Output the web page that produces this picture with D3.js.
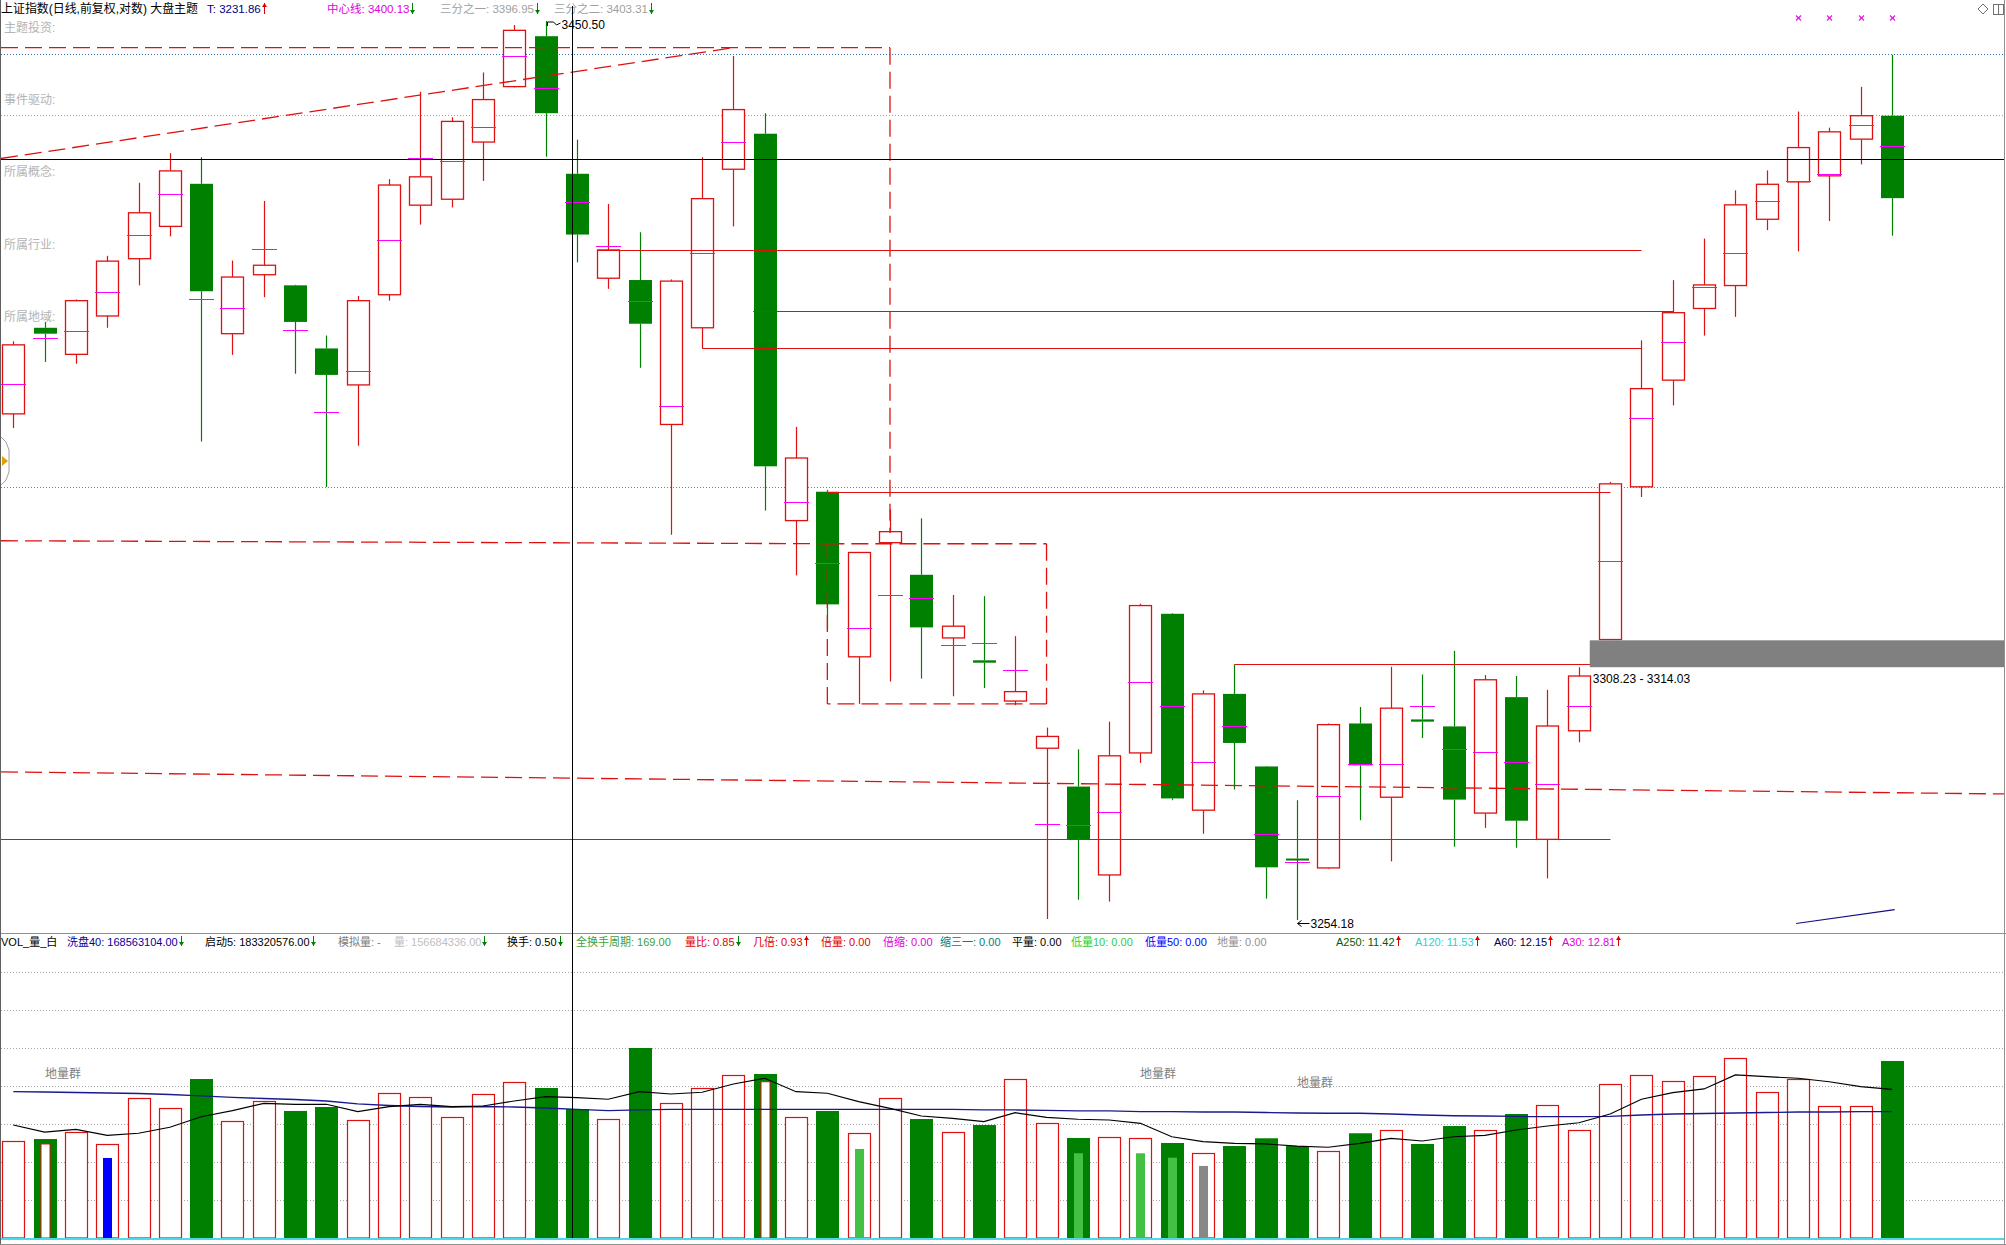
<!DOCTYPE html>
<html><head><meta charset="utf-8">
<script src="https://cdn.jsdelivr.net/npm/d3@7"></script>
<style>
html,body{margin:0;padding:0;background:#fff;}
svg{display:block;}
text{font-family:"Liberation Sans","Noto Sans CJK SC",sans-serif;}
</style></head><body>
<svg id="c" width="2006" height="1245"></svg>
<script>
// ---------------- DATA ----------------
const opens  = [3363.29,3382.21,3376.36,3384.81,3397.47,3404.63,3414.09,3380.91,3393.92,3391.58,
                3377.66,3369.64,3389.50,3409.34,3410.66,3423.39,3435.78,3447.08,3416.32,3393.15,
                3392.75,3360.97,3382.21,3417.33,3425.25,3339.98,3346.27,3310.47,3335.18,3328.21,
                3314.54,3309.71,3300.94,3290.81,3282.60,3263.75,3289.80,3319.76,3277.55,3302.48,
                3286.90,3267.24,3265.24,3296.12,3280.32,3296.99,3295.49,3276.93,3301.78,3271.32,
                3294.55,3314.20,3347.34,3370.69,3386.47,3391.53,3406.21,3414.51,3415.86,3424.04,3429.27];
const highs  = [3379.22,3383.50,3388.46,3398.11,3414.33,3420.90,3419.99,3397.06,3410.28,3391.70,
                3380.51,3389.23,3415.13,3434.61,3428.92,3438.95,3449.59,3450.50,3423.93,3409.61,
                3403.33,3392.88,3419.99,3442.64,3429.83,3360.44,3346.66,3333.10,3342.40,3340.48,
                3323.84,3323.58,3314.93,3295.24,3290.57,3296.51,3321.93,3319.90,3303.23,3308.83,
                3287.00,3279.68,3296.12,3299.67,3308.32,3306.66,3311.74,3306.53,3306.33,3303.36,
                3308.23,3348.41,3379.44,3392.73,3401.93,3412.64,3417.07,3430.21,3426.60,3435.74,3442.92];
const lows   = [3360.18,3374.69,3374.30,3382.21,3391.58,3402.42,3357.23,3376.25,3388.97,3372.10,
                3347.32,3356.31,3388.19,3405.03,3408.83,3414.73,3435.60,3420.12,3396.66,3390.80,
                3373.40,3336.90,3377.66,3404.63,3342.16,3328.08,3316.27,3300.32,3305.15,3305.77,
                3301.96,3303.74,3300.06,3254.39,3258.48,3258.09,3287.66,3279.68,3272.52,3281.98,
                3258.73,3254.18,3265.10,3275.41,3266.63,3292.98,3269.77,3273.77,3269.54,3263.01,
                3292.08,3314.03,3345.12,3365.14,3380.49,3384.61,3403.80,3399.08,3405.81,3418.41,3402.56];
const closes = [3378.45,3380.91,3388.19,3396.93,3407.65,3416.96,3390.27,3393.41,3396.02,3383.50,
                3371.84,3388.19,3413.82,3415.64,3428.00,3432.88,3448.40,3429.83,3402.82,3399.41,
                3383.10,3392.51,3410.79,3430.64,3351.82,3353.63,3321.80,3333.05,3337.58,3316.82,
                3317.08,3309.20,3302.97,3293.34,3271.26,3289.18,3321.54,3280.06,3302.48,3291.94,
                3265.37,3266.99,3295.87,3287.14,3299.41,3296.51,3279.81,3305.52,3275.30,3295.58,
                3306.33,3347.99,3368.83,3385.54,3391.67,3409.41,3413.98,3422.16,3425.67,3429.27,3410.90];
const avgPrices = [3369.77,3380.01,3381.42,3390.16,3402.82,3411.73,3388.46,3386.62,3399.54,3381.82,
                3363.69,3372.61,3401.62,3419.86,3419.08,3426.82,3442.64,3435.38,3410.15,3400.31,
                3388.19,3364.96,3398.63,3423.39,3385.85,3344.09,3330.77,3316.72,3323.84,3323.21,
                3313.01,3313.40,3307.56,3274.66,3274.41,3277.06,3305.02,3299.80,3287.92,3295.61,
                3272.52,3266.50,3280.58,3287.39,3287.39,3299.80,3290.69,3290.06,3287.82,3283.04,
                3299.84,3331.10,3362.35,3379.03,3391.14,3398.72,3410.37,3414.78,3416.26,3427.14,3422.56];
// volume, millions of shares
const volumes = [117.4,120.2,128.4,113.8,169.7,157.5,193.1,141.7,166.0,154.3,
                 159.1,143.0,175.8,170.9,146.6,174.5,189.1,182.2,156.68,144.2,
                 230.8,164.0,181.8,198.0,199.2,146.6,154.3,127.2,169.7,144.5,
                 128.4,137.2,192.8,139.3,121.5,122.3,121.1,115.4,102.9,111.7,
                 121.1,111.7,105.7,127.2,131.2,114.2,136.0,131.2,150.6,161.2,
                 131.2,187.0,198.0,190.7,196.8,218.3,177.0,193.1,160.0,160.0,215.0];
const volMaShort = [137.2,128.7,132.0,124.7,127.2,134.5,147.3,154.6,163.6,162.4,
                 162.4,153.4,159.5,162.4,159.5,160.3,166.4,171.6,170.4,168.5,
                 177.7,174.9,177.0,187.0,194.0,177.7,175.8,165.6,157.5,148.2,
                 145.4,141.3,152.2,146.6,144.2,143.3,139.3,123.0,117.0,115.0,
                 114.2,111.7,110.2,115.0,121.1,117.8,123.0,124.7,131.2,136.0,
                 140.0,150.6,168.5,176.5,181.0,198.0,195.9,194.0,189.8,183.8,180.6];
const volMaLong = [177.7,177.3,176.7,176.1,175.5,174.3,172.5,170.7,169.4,168.2,
                 166.4,162.8,160.9,159.7,159.1,159.7,159.1,157.9,156.3,154.6,
                 155.5,156.3,156.3,156.3,156.3,156.3,156.3,156.3,156.3,156.1,
                 156.1,155.5,155.5,154.9,154.3,154.3,153.6,153.4,153.0,153.0,
                 152.4,151.8,151.5,151.5,150.6,149.4,148.5,148.2,147.6,147.3,
                 147.3,147.6,149.4,150.6,151.2,151.8,152.4,153.0,153.0,153.4,153.4];
const volTicks = [46.15,92.3,138.45,184.6,230.75,276.9,323.05];
const innerIdx  = [1,24,3,27,34,36,37,38,41];
const innerVal  = [114.2,189.8,97.2,108.1,102.9,102.9,97.5,87.5,106.9];
const innerKind = ['hollow','hollow','blue','lime','lime','lime','lime','gray','line'];
const markIdx = [57,58,59,60];
// horizontal support/resistance lines
const srPrice = [3399.41,3385.85,3377.66,3346.27,3308.83,3271.45];
const srFrom  = [18.65,23.65,22,26,39,-0.43];
const srTo    = [52,53,52,51,51,51];
// dashed drawing lines: [fromIndex, fromPrice, toIndex, toPrice]
const dashLines = [[-0.43,3444.51,28,3444.51],[28,3444.51,28,3337.30],[-0.43,3419.72,23,3444.51],
                   [-0.43,3335.60,26,3334.95],[26,3334.95,33,3334.95],[33,3334.95,33,3300.32],
                   [33,3300.32,26,3300.32],[26,3300.32,26,3334.95],[-0.43,3285.74,63.64,3281.02]];
const dottedPrices = [3443.19,3429.32,3347.32];
const cursorPrice = 3419.52, cursorIndex = 17.84;
const gapLow = 3308.23, gapHigh = 3314.03, gapFromIndex = 50.35;
const navySeg = [[56.94,3253.44],[60.09,3256.39]];
const headTexts = ['上证指数(日线,前复权,对数) 大盘主题','T: 3231.86','中心线: 3400.13','三分之一: 3396.95','三分之二: 3403.31'];
const headArrows = [null,'up','down','down','down'];
const volTexts = ['VOL_量_白','洗盘40: 168563104.00','启动5: 183320576.00','模拟量: -','量: 156684336.00','换手: 0.50','全换手周期: 169.00',
  '量比: 0.85','几倍: 0.93','倍量: 0.00','倍缩: 0.00','缩三一: 0.00','平量: 0.00','低量10: 0.00','低量50: 0.00','地量: 0.00',
  'A250: 11.42','A120: 11.53','A60: 12.15','A30: 12.81'];
const volArrows = [null,'down','down',null,'down','down',null,'down','up',null,null,null,null,null,null,null,'up','up','up','up'];
const sideLabels = ['主题投资:','事件驱动:','所属概念:','所属行业:','所属地域:'];
const groupLabels = ['地量群','地量群','地量群'];

// ---------------- LAYOUT / STYLE ----------------
const RED='#e01010', GREEN='#008000', MAG='#ff00ff';
const headX=[1,207,327,440,554], headColor=['#000','#000080','#e000e0','#a0a0a0','#a0a0a0'];
const volX=[1,67,205,338,394,507,576,685,753,821,883,940,1012,1071,1145,1217,1336,1415,1494,1562];
const volColor=['#000','#0000a0','#000','#808080','#c0c0c0','#000','#40a040','#e00000','#e00000','#e00000','#e000e0','#008080',
  '#000','#30d030','#0000ff','#909090','#006000','#30d0d0','#000050','#e000e0'];
const groupPos=[[45,1078],[1140,1078],[1297,1087]];

const svg=d3.select('#c');
svg.append('rect').attr('width',2006).attr('height',1245).attr('fill','#fff');

const x=d3.scaleLinear().domain([0,60]).range([13.3,1891.9]);
const y=d3.scaleLog().domain([3254.18,3450.50]).range([920,21]);
const vy=d3.scaleLinear().domain([0,231]).range([1238,1047.8]);
const BW=22;
const PX0=1, PX1=2004;
const cx=i=>Math.round(x(i))+0.5;
const hy=v=>Math.round(y(v))+0.5;
const clampX=v=>Math.max(PX0,Math.min(PX1,v));

// ---- dotted reference lines
const dotColors=['#3070b0','#a0a0a0','#40a080'];
dottedPrices.forEach((p,k)=>{
  svg.append('line').attr('x1',PX0).attr('x2',PX1).attr('y1',hy(p)).attr('y2',hy(p))
    .attr('stroke',dotColors[k]).attr('stroke-width',1).attr('stroke-dasharray','1,2');
});

// ---- side labels
sideLabels.forEach((s,k)=>{
  svg.append('text').attr('x',4).attr('y',31.5+72.4*k).attr('font-size',12).attr('fill','#b4b4b4').text(s);
});

// ---- candles
const cg=svg.append('g');
d3.range(opens.length).forEach(i=>{
  const up=closes[i]>=opens[i];
  const c=cx(i), col=up?RED:GREEN;
  const top=y(Math.max(opens[i],closes[i])), bot=y(Math.min(opens[i],closes[i]));
  cg.append('line').attr('x1',c).attr('x2',c).attr('y1',y(highs[i])).attr('y2',top).attr('stroke',col).attr('stroke-width',1.2);
  cg.append('line').attr('x1',c).attr('x2',c).attr('y1',bot).attr('y2',y(lows[i])).attr('stroke',col).attr('stroke-width',1.2);
  if(up){
    cg.append('rect').attr('x',c-BW/2).attr('y',top).attr('width',BW).attr('height',Math.max(bot-top,1))
      .attr('fill','#fff').attr('stroke',RED).attr('stroke-width',1.3);
  } else {
    const h=Math.max(bot-top,2);
    cg.append('rect').attr('x',c-BW/2-0.5).attr('y',top).attr('width',BW+1).attr('height',h).attr('fill',GREEN);
  }
  const a=hy(avgPrices[i]);
  cg.append('line').attr('x1',c-12.5).attr('x2',c+12.5).attr('y1',a).attr('y2',a).attr('stroke',MAG).attr('stroke-width',1);
});

// ---- solid support lines
srPrice.forEach((p,k)=>{
  svg.append('line').attr('x1',clampX(x(srFrom[k]))).attr('x2',cx(srTo[k])).attr('y1',hy(p)).attr('y2',hy(p))
    .attr('stroke',RED).attr('stroke-width',1);
});
// ---- dashed lines
dashLines.forEach(d=>{
  svg.append('line').attr('x1',clampX(x(d[0]))).attr('y1',y(d[1])).attr('x2',clampX(x(d[2]))).attr('y2',y(d[3]))
    .attr('stroke',RED).attr('stroke-width',1.3).attr('stroke-dasharray','17,7');
});
// ---- cursor horizontal
svg.append('line').attr('x1',PX0).attr('x2',PX1).attr('y1',hy(cursorPrice)).attr('y2',hy(cursorPrice)).attr('stroke','#000').attr('stroke-width',1);
// ---- gap band
svg.append('rect').attr('x',x(gapFromIndex)).attr('y',y(gapHigh)).attr('width',PX1-x(gapFromIndex)).attr('height',y(gapLow)-y(gapHigh)).attr('fill','#808080');
svg.append('text').attr('x',x(gapFromIndex)+3).attr('y',y(gapLow)+16).attr('font-size',12).attr('fill','#000')
  .text(d3.format('.2f')(gapLow)+' - '+d3.format('.2f')(gapHigh));
// ---- navy small segment
svg.append('line').attr('x1',x(navySeg[0][0])).attr('y1',y(navySeg[0][1])).attr('x2',x(navySeg[1][0])).attr('y2',y(navySeg[1][1]))
  .attr('stroke','#101080').attr('stroke-width',1.2);

// ---- extreme labels
const hiI=highs.indexOf(d3.max(highs)), loI=lows.indexOf(d3.min(lows));
{
  const hx=cx(hiI)+1, hyy=y(highs[hiI]);
  svg.append('path').attr('d',`M${hx},${hyy+1}L${hx},${hyy+5}M${hx},${hyy+1}L${hx+6},${hyy+1}L${hx+9},${hyy+4}L${hx+13},${hyy+2}`)
    .attr('stroke','#000').attr('fill','none').attr('stroke-width',1);
  svg.append('text').attr('x',hx+14).attr('y',hyy+8).attr('font-size',12).attr('fill','#000').text(d3.format('.2f')(highs[hiI]));
  const lx=cx(loI), ly=y(lows[loI])+3.5;
  svg.append('path').attr('d',`M${lx},${ly}L${lx+12},${ly}M${lx},${ly}L${lx+4},${ly-3}M${lx},${ly}L${lx+4},${ly+3}`)
    .attr('stroke','#000').attr('fill','none').attr('stroke-width',1);
  svg.append('text').attr('x',lx+13).attr('y',ly+4.5).attr('font-size',12).attr('fill','#000').text(d3.format('.2f')(lows[loI]));
}

// ---- top markers
markIdx.forEach(i=>{
  const c=cx(i), m=18;
  svg.append('path').attr('d',`M${c-2.5},${m-2.5}L${c+2.5},${m+2.5}M${c-2.5},${m+2.5}L${c+2.5},${m-2.5}`)
    .attr('stroke','#e020e0').attr('stroke-width',1.2);
  svg.append('rect').attr('x',c-1).attr('y',m-1).attr('width',2).attr('height',2).attr('fill','#e020e0');
});

// ---- left handle
svg.append('polygon').attr('points','0,436 6,442 9,450 9,472 6,480 0,486').attr('fill','#fff').attr('stroke','#a0a0a0');
svg.append('polygon').attr('points','2,456 8,461 2,466').attr('fill','#e0a000');

// ---- header
function arrowAt(xp,yTop,yBot,dir,color){
  const g=svg.append('g');
  g.append('line').attr('x1',xp+0.5).attr('x2',xp+0.5).attr('y1',yTop).attr('y2',yBot).attr('stroke',color).attr('stroke-width',1);
  if(dir==='up') g.append('path').attr('d',`M${xp-2},${yTop+4}L${xp+0.5},${yTop}L${xp+3},${yTop+4}Z`).attr('fill',color);
  else g.append('path').attr('d',`M${xp-2},${yBot-4}L${xp+0.5},${yBot}L${xp+3},${yBot-4}Z`).attr('fill',color);
}
headTexts.forEach((s,k)=>{
  const t=svg.append('text').attr('x',headX[k]).attr('y',13).attr('font-size',k===0?12:11.5).attr('fill',headColor[k]).text(s);
  if(k===0) t.attr('textLength',197).attr('lengthAdjust','spacingAndGlyphs');
  if(headArrows[k]){
    const w=t.node().getComputedTextLength();
    arrowAt(Math.round(headX[k]+w+3),3,14,headArrows[k],headArrows[k]==='up'?'#e00000':'#008000');
  }
});
// top-right icons
svg.append('path').attr('d','M1978,9L1983,4L1988,9L1983,14Z').attr('fill','none').attr('stroke','#707070');
svg.append('rect').attr('x',1993.5).attr('y',4.5).attr('width',10).attr('height',10).attr('fill','none').attr('stroke','#707070');
svg.append('line').attr('x1',1998.5).attr('x2',1998.5).attr('y1',4.5).attr('y2',14.5).attr('stroke','#707070');

// ---------------- VOLUME PANEL ----------------
svg.append('line').attr('x1',0).attr('x2',2006).attr('y1',933.5).attr('y2',933.5).attr('stroke','#909090');
volTicks.forEach(v=>{
  const yy=Math.round(vy(v))+0.5;
  svg.append('line').attr('x1',PX0).attr('x2',PX1).attr('y1',yy).attr('y2',yy).attr('stroke','#a8a8a8').attr('stroke-dasharray','1,2');
});
volTexts.forEach((s,k)=>{
  const t=svg.append('text').attr('x',volX[k]).attr('y',946).attr('font-size',11).attr('fill',volColor[k]).text(s);
  if(volArrows[k]){
    const w=t.node().getComputedTextLength();
    arrowAt(Math.round(volX[k]+w+3),936,946,volArrows[k],volArrows[k]==='up'?'#e00000':'#008000');
  }
});
groupLabels.forEach((s,k)=>{
  svg.append('text').attr('x',groupPos[k][0]).attr('y',groupPos[k][1]).attr('font-size',12).attr('fill','#808080').text(s);
});
const vg=svg.append('g');
const base=vy(0);
d3.range(volumes.length).forEach(i=>{
  const up=closes[i]>=opens[i], c=cx(i), t=vy(volumes[i]);
  if(up) vg.append('rect').attr('x',c-BW/2).attr('y',Math.round(t)+0.5).attr('width',BW).attr('height',base-Math.round(t)-0.5)
      .attr('fill','#fff').attr('stroke',RED).attr('stroke-width',1.2);
  else vg.append('rect').attr('x',c-BW/2-0.5).attr('y',t).attr('width',BW+1).attr('height',base-t).attr('fill',GREEN);
});
innerIdx.forEach((i,k)=>{
  const c=cx(i), t=vy(innerVal[k]), kind=innerKind[k];
  if(kind==='hollow') vg.append('rect').attr('x',c-4.5).attr('y',t).attr('width',9).attr('height',base-t).attr('fill','#fff').attr('stroke',RED).attr('stroke-width',1);
  else if(kind==='line') vg.append('line').attr('x1',c).attr('x2',c).attr('y1',t).attr('y2',base).attr('stroke',RED).attr('stroke-width',1);
  else vg.append('rect').attr('x',c-4.5).attr('y',t).attr('width',9).attr('height',base-t)
      .attr('fill',kind==='blue'?'#0000ff':kind==='lime'?'#44c044':'#888888');
});
const ln=d3.line().x((d,i)=>x(i)).y(d=>vy(d));
svg.append('path').attr('d',ln(volMaLong)).attr('fill','none').attr('stroke','#1a1a90').attr('stroke-width',1.3);
svg.append('path').attr('d',ln(volMaShort)).attr('fill','none').attr('stroke','#000').attr('stroke-width',1.2);
svg.append('line').attr('x1',0).attr('x2',PX1).attr('y1',base+1).attr('y2',base+1).attr('stroke','#50d8e8').attr('stroke-width',2);

// ---- cursor vertical
svg.append('line').attr('x1',Math.round(x(cursorIndex))+0.5).attr('x2',Math.round(x(cursorIndex))+0.5).attr('y1',6).attr('y2',base)
  .attr('stroke','#000').attr('stroke-width',1);

// ---- borders
svg.append('line').attr('x1',0.5).attr('x2',0.5).attr('y1',0).attr('y2',1245).attr('stroke','#606060');
svg.append('line').attr('x1',2004.5).attr('x2',2004.5).attr('y1',0).attr('y2',1245).attr('stroke','#909090');
svg.append('line').attr('x1',0).attr('x2',2006).attr('y1',1244.5).attr('y2',1244.5).attr('stroke','#909090');
</script>
</body></html>
